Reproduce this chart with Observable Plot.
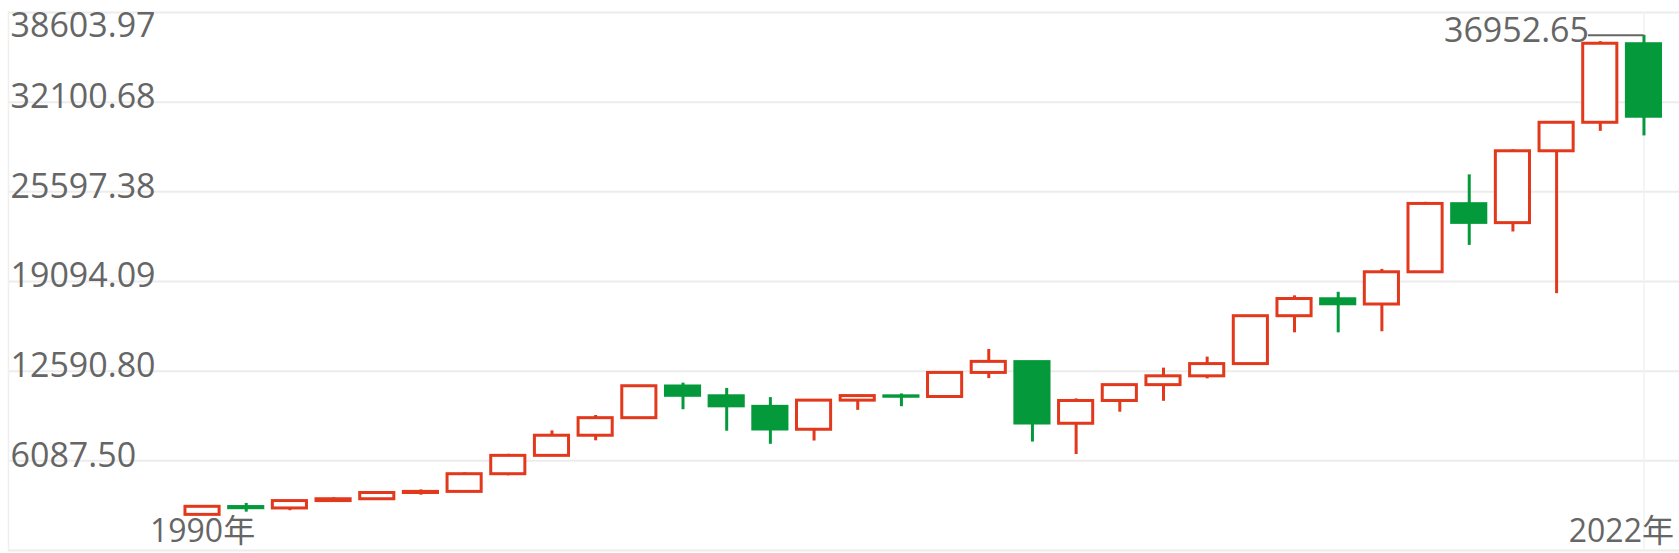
<!DOCTYPE html>
<html>
<head>
<meta charset="utf-8">
<script src="https://cdn.jsdelivr.net/npm/d3@7"></script>
<script src="https://cdn.jsdelivr.net/npm/@observablehq/plot@0.6"></script>
<style>
  html, body { margin: 0; padding: 0; background: #ffffff; }
  #chart svg { display: block; }
</style>
</head>
<body>
<div id="chart"></div>
<script>
// ---- data (annual candles) ----
const years = [1989, 1990, 1991, 1992, 1993, 1994, 1995, 1996, 1997, 1998, 1999,
  2000, 2001, 2002, 2003, 2004, 2005, 2006, 2007, 2008, 2009, 2010, 2011, 2012,
  2013, 2014, 2015, 2016, 2017, 2018, 2019, 2020, 2021, 2022];
const open = [2168.57, 2753.20, 2633.66, 3168.83, 3301.11, 3754.09, 3834.44, 5117.12, 6448.27, 7908.25, 9181.43,
  11497.12, 10786.85, 10021.50, 8341.63, 10453.92, 10783.01, 10717.50, 12463.15, 13264.82, 8776.39, 10428.05, 11577.51, 12217.56,
  13104.14, 16576.66, 17823.07, 17425.03, 19762.60, 24719.22, 23327.46, 28538.44, 30606.48, 36321.59];
const high = [2791.41, 2999.75, 3168.83, 3413.21, 3794.33, 3978.36, 5216.47, 6560.91, 8259.31, 9374.27, 11497.12,
  11722.98, 11337.92, 10673.10, 10453.92, 10854.54, 10940.55, 12510.57, 14164.53, 13279.54, 10580.33, 11585.38, 12810.54, 13610.15,
  16576.66, 18053.71, 18312.39, 19974.62, 24837.51, 26828.39, 28645.26, 30637.47, 36488.63, 36952.65];
const low = [2144.64, 2365.10, 2470.30, 3136.58, 3241.95, 3593.35, 3832.08, 5000.00, 6391.69, 7539.07, 9120.67,
  9796.03, 8235.81, 7286.27, 7524.06, 9749.99, 10012.36, 10667.39, 12050.41, 7449.38, 6547.05, 9614.32, 10404.49, 12035.09,
  13328.85, 15372.80, 15370.33, 15450.56, 19732.40, 21712.53, 22686.22, 18213.65, 29982.62, 29653.29];
const close = [2753.20, 2633.66, 3168.83, 3301.11, 3754.09, 3834.44, 5117.12, 6448.27, 7908.25, 9181.43, 11497.12,
  10786.85, 10021.50, 8341.63, 10453.92, 10783.01, 10717.50, 12463.15, 13264.82, 8776.39, 10428.05, 11577.51, 12217.56, 13104.14,
  16576.66, 17823.07, 17425.03, 19762.60, 24719.22, 23327.46, 28538.44, 30606.48, 36338.30, 31025.00];

// axis ticks and labels
const yTicks = [6087.50, 12590.80, 19094.09, 25597.38, 32100.68, 38603.97];
const yMin = -415.79;
const xTickYears = [1989, 2022];
const xTickLabels = ["1990年", "2022年"];
const maxValue = 36952.65;

// ---- build table ----
const data = years.map((year, i) => ({
  year, open: open[i], high: high[i], low: low[i], close: close[i], up: close[i] >= open[i]
}));
const ups = data.filter(d => d.up);
const downs = data.filter(d => !d.up);
const lastYear = years[years.length - 1];

const RED = "#e2381c";
const GREEN = "#04993a";
const TEXT = "#666666";
const FONT = "'Open Sans', 'Noto Sans CJK SC', sans-serif";

const chart = Plot.plot({
  width: 1679,
  height: 553,
  marginLeft: 8,
  marginRight: 0,
  marginTop: 12,
  marginBottom: 3,
  x: {type: "band", domain: years, range: [180.2, 1665.3], paddingInner: 0.15, paddingOuter: 0.075, round: false, axis: null},
  y: {domain: [yMin, yTicks[yTicks.length - 1]], axis: null},
  style: {fontFamily: FONT, background: "#ffffff", overflow: "visible"},
  marks: [
    // grid
    Plot.ruleY([yMin, ...yTicks], {stroke: "#ececec", strokeWidth: 2}),
    Plot.frame({anchor: "left", stroke: "#efefef", strokeWidth: 1.5}),
    Plot.ruleX([lastYear], {stroke: "#f1f1f1", strokeWidth: 1.5}),
    // wicks
    Plot.ruleX(data, {x: "year", y1: "low", y2: "high", stroke: d => d.up ? RED : GREEN, strokeWidth: 3}),
    // bodies
    Plot.barY(ups, {x: "year", y1: "open", y2: "close", fill: "#ffffff", stroke: RED, strokeWidth: 3, insetLeft: 1.5, insetRight: 1.5}),
    Plot.barY(downs, {x: "year", y1: "open", y2: "close", fill: GREEN, stroke: GREEN, strokeWidth: 2.5, insetLeft: 1.25, insetRight: 1.25}),
    // y labels
    Plot.text(yTicks.slice(0, -1), {y: d => d, text: d => d.toFixed(2), frameAnchor: "left", textAnchor: "start", dx: 2, dy: -5, fontSize: 34, fill: TEXT}),
    Plot.text(yTicks.slice(-1), {y: d => d, text: d => d.toFixed(2), frameAnchor: "left", textAnchor: "start", dx: 2, dy: 13.5, fontSize: 34, fill: TEXT}),
    // x labels
    Plot.text([0], {x: () => xTickYears[0], text: () => xTickLabels[0], frameAnchor: "bottom", textAnchor: "middle", dy: -9, fontSize: 32, fill: TEXT}),
    Plot.text([1], {x: () => xTickYears[1], text: () => xTickLabels[1], frameAnchor: "bottom", textAnchor: "end", dx: 30, dy: -9, fontSize: 32, fill: TEXT}),
    // max annotation
    Plot.tickY([{year: lastYear, v: maxValue}], {x: "year", y: "v", stroke: "#666666", strokeWidth: 2, insetLeft: -37, insetRight: 18.55}),
    Plot.text([{year: lastYear, v: maxValue}], {x: "year", y: "v", text: d => d.v.toFixed(2), textAnchor: "end", dx: -55, dy: -4.5, fontSize: 34, fill: TEXT})
  ]
});

document.getElementById("chart").appendChild(chart);
</script>
</body>
</html>
